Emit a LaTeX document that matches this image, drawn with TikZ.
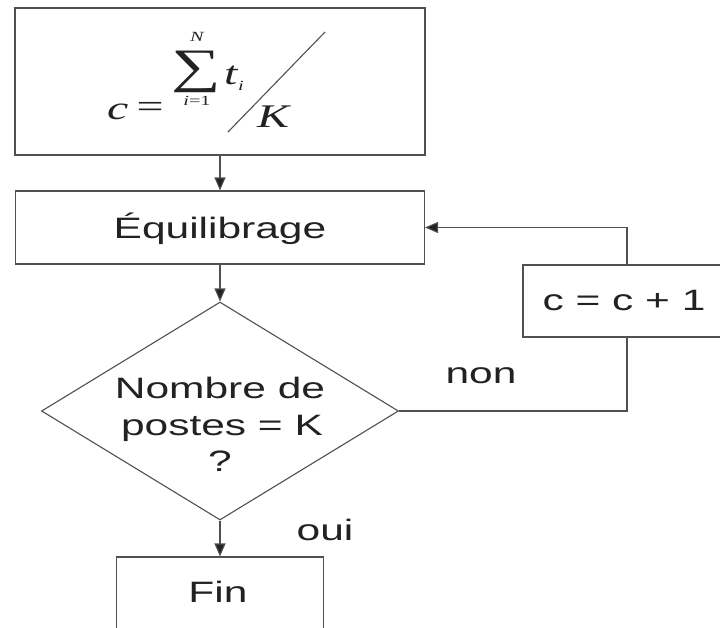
\documentclass[tikz,border=0pt]{standalone}
\usepackage{fontspec}
\setmainfont{Liberation Sans}
\newfontfamily\sanswide[FakeStretch=1.44]{Liberation Sans}
\newfontfamily\serifwide[FakeStretch=1.45]{Liberation Serif}
\usetikzlibrary{shapes.geometric,arrows.meta}
\definecolor{linegray}{HTML}{505050}
\definecolor{textgray}{HTML}{222222}
\begin{document}
\begin{tikzpicture}[x=1pt,y=-1pt,
  box/.style={draw=linegray, line width=1.1pt, fill=white, inner sep=0pt},
  line/.style={draw=linegray, line width=1.1pt},
  arr/.style={line, -{Triangle[length=13pt,width=11pt,fill=textgray]}},
  lbl/.style={font=\sanswide\fontsize{29.5}{35}\selectfont, text=textgray, inner sep=0pt},
  fml/.style={font=\serifwide\fontsize{33}{36}\selectfont, text=textgray, inner sep=0pt},
  fmlsmall/.style={font=\serifwide\fontsize{14}{16}\selectfont, text=textgray, inner sep=0pt}]
\useasboundingbox (0,0) rectangle (720,627);
\clip (0,0) rectangle (720,627);
\fill[white] (0,0) rectangle (720,627);

% boxes
\node[box, minimum width=410, minimum height=147] (top) at (220,81.5) {};
\node[box, minimum width=409, minimum height=73] (eq) at (220,227.5) {};
\node[box, minimum width=208, minimum height=72] (inc) at (627,301) {};
\node[box, minimum width=207, minimum height=90] (fin) at (220,602) {};
\node[draw=linegray, line width=1.1pt, diamond, minimum width=357, minimum height=218, inner sep=0pt] (dia) at (220,411) {};

% formula
\node[fml, anchor=base west] (fc) at (107,119) {\itshape c};
\node[fml, anchor=center] (feq) at (150,110) {=};
\node[fml, anchor=center, font=\serifwide\fontsize{48}{52}\selectfont] (fsum) at (196,72) {∑};
\node[fmlsmall, anchor=center] (fN) at (197,37) {\itshape N};
\node[fmlsmall, anchor=center] (fi) at (197,101) {\itshape i\upshape =1};
\node[fml, anchor=base west] (ft) at (224,84) {\itshape t};
\node[fmlsmall, anchor=base west] (fti) at (238,90) {\itshape i};
\node[fml, anchor=base west] (fK) at (257,127) {\itshape K};
\coordinate (s1) at (228,132);
\coordinate (s2) at (325,32);
\draw[line] (s1) -- (s2);

% labels
\node[lbl, anchor=base] (eqt) at (220,238) {Équilibrage};
\node[lbl, anchor=base] (q1) at (220,398) {Nombre de};
\node[lbl, anchor=base] (q2) at (222,435) {postes = K};
\node[lbl, anchor=base] (q3) at (220,471) {?};
\node[lbl, anchor=base] (inct) at (624,310) {c = c + 1};
\node[lbl, anchor=base] (fint) at (218,602) {Fin};
\node[lbl, anchor=base] (non) at (481,383) {non};
\node[lbl, anchor=base] (oui) at (325,540) {oui};

% connectors
\draw[arr] (top.south) -- (eq.north);
\draw[arr] (eq.south) -- (dia.north);
\draw[line] (dia.east) -- (dia.east -| inc.south) -- (inc.south);
\draw[arr] (inc.north) |- (eq.east);
\draw[arr] (dia.south) -- (fin.north);
\end{tikzpicture}
\end{document}
